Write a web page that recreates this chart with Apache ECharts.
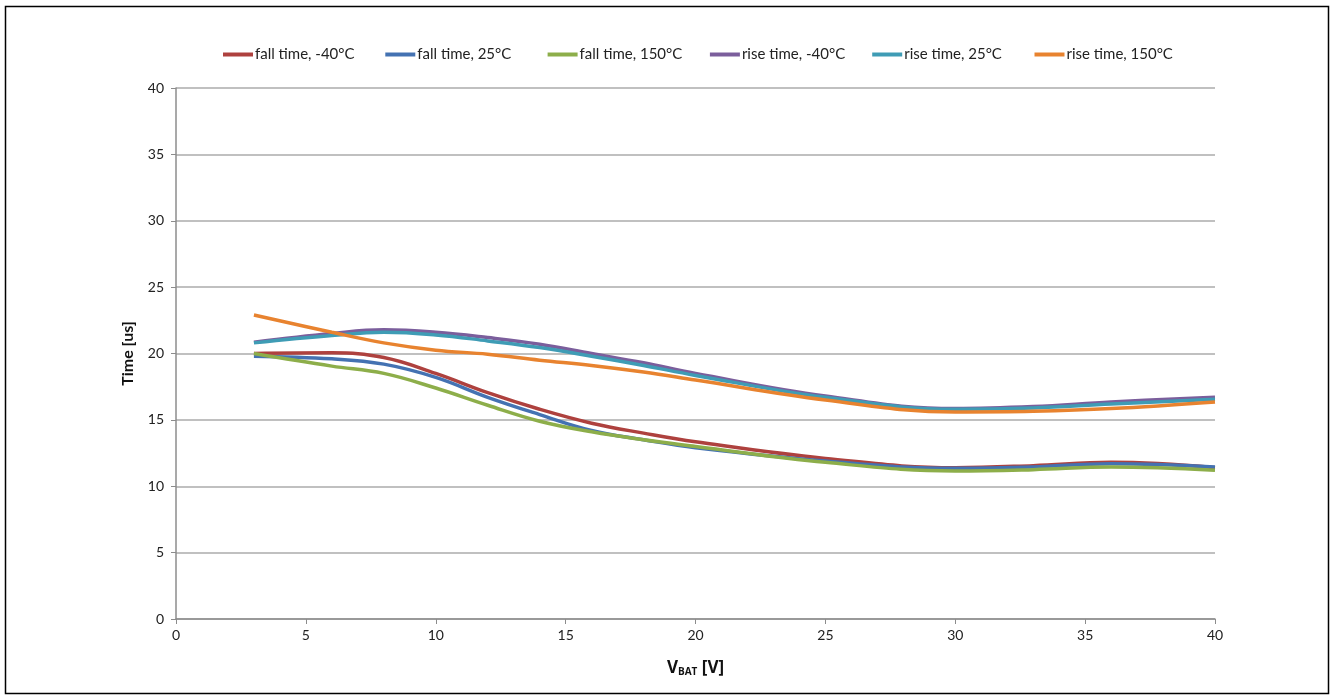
<!DOCTYPE html>
<html>
<head>
<meta charset="utf-8">
<script src="https://cdn.jsdelivr.net/npm/echarts@6/dist/echarts.min.js"></script>
<style>
  html, body { margin: 0; padding: 0; background: #fff; }
  #chart { width: 1334px; height: 695px; }
</style>
</head>
<body>
<div id="chart"></div>
<script>
// supply voltage [V]
let vbat = [3, 6, 8, 10, 12, 14, 16, 18, 20, 25, 30, 33, 36, 40]

// times [us]
let fallM40 = [20.0, 20.05, 19.7, 18.5, 17.05, 15.8, 14.75, 14.0, 13.35, 12.1, 11.4, 11.55, 11.8, 11.4]
let fall25 = [19.8, 19.6, 19.2, 18.2, 16.7, 15.4, 14.2, 13.5, 12.9, 11.9, 11.35, 11.45, 11.7, 11.45]
let fall150 = [20.0, 19.05, 18.5, 17.4, 16.1, 14.9, 14.1, 13.5, 13.0, 11.8, 11.15, 11.25, 11.45, 11.2]
let riseM40 = [20.85, 21.5, 21.78, 21.6, 21.2, 20.7, 20.0, 19.3, 18.5, 16.8, 15.85, 16.0, 16.35, 16.7]
let rise25 = [20.8, 21.35, 21.6, 21.4, 20.95, 20.45, 19.8, 19.1, 18.35, 16.7, 15.8, 15.9, 16.2, 16.55]
let rise150 = [22.9, 21.6, 20.8, 20.25, 19.95, 19.5, 19.1, 18.6, 18.0, 16.5, 15.6, 15.65, 15.85, 16.35]

let seriesNames = ['fall time, -40°C', 'fall time, 25°C', 'fall time, 150°C', 'rise time, -40°C', 'rise time, 25°C', 'rise time, 150°C']
let seriesData = [fallM40, fall25, fall150, riseM40, rise25, rise150]
let colors = ['#AE413E', '#4472B2', '#8DAE4A', '#7B5E9C', '#3F9CB5', '#E8832F']

let font = 'Lato, "Open Sans", sans-serif'
let nameFont = '"Open Sans", sans-serif'

function pairs(ys) {
  return vbat.map((x, i) => [x, ys[i]])
}

// one legend per item so the spacing matches the original
let legends = seriesNames.map((name, i) => ({
  top: 42,
  left: 218 + 162.3 * i,
  itemWidth: 30,
  itemHeight: 4,
  icon: 'rect',
  textStyle: { fontFamily: font, fontSize: 15, color: '#222', padding: [0, 0, 0, -3] },
  data: [name]
}))

let chart = echarts.init(document.getElementById('chart'))
chart.setOption({
  animation: false,
  color: colors,
  textStyle: { fontFamily: font },
  graphic: [
    {
      type: 'rect',
      shape: { x: 5.5, y: 6.5, width: 1323, height: 687 },
      style: { fill: 'none', stroke: '#000', lineWidth: 1.5 },
      silent: true
    }
  ],
  legend: legends,
  grid: { left: 176, right: 119, top: 88, bottom: 76 },
  xAxis: {
    type: 'value',
    min: 0,
    max: 40,
    interval: 5,
    name: 'V{sub|BAT} [V]',
    nameLocation: 'middle',
    nameGap: 40,
    nameTextStyle: {
      fontFamily: nameFont,
      fontSize: 17,
      fontWeight: 'bold',
      color: '#111',
      rich: {
        sub: { fontSize: 10, fontWeight: 'bold', verticalAlign: 'bottom', padding: [8, 0, 0, 0], fontFamily: nameFont, color: '#111' }
      }
    },
    axisLine: { lineStyle: { color: '#8c8c8c', width: 1.5 } },
    axisTick: { length: 5, lineStyle: { color: '#8c8c8c' } },
    axisLabel: { fontFamily: font, fontSize: 14, color: '#222', margin: 9 },
    splitLine: { show: false }
  },
  yAxis: {
    type: 'value',
    min: 0,
    max: 40,
    interval: 5,
    name: 'Time [us]',
    nameLocation: 'middle',
    nameGap: 40,
    nameTextStyle: { fontFamily: font, fontSize: 16, fontWeight: 'bold', color: '#111' },
    axisLine: { show: true, lineStyle: { color: '#8c8c8c', width: 1.5 } },
    axisTick: { show: true, length: 5, lineStyle: { color: '#8c8c8c' } },
    axisLabel: { fontFamily: font, fontSize: 14, color: '#222', margin: 12 },
    splitLine: { lineStyle: { color: '#ababab', width: 1.5 } }
  },
  series: seriesNames.map((name, i) => ({
    name: name,
    type: 'line',
    smooth: 0.4,
    showSymbol: false,
    lineStyle: { width: 3.5 },
    data: pairs(seriesData[i])
  }))
})
</script>
</body>
</html>
